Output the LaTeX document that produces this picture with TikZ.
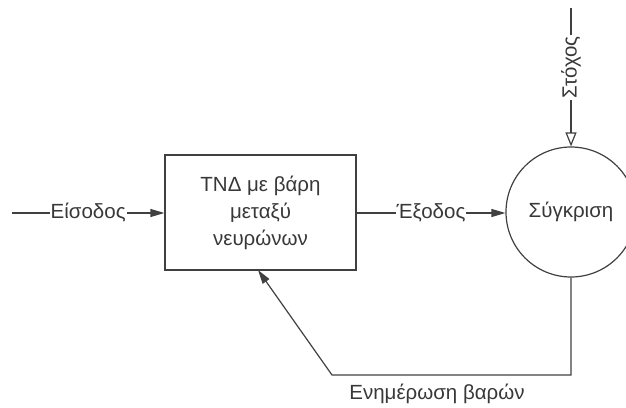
\documentclass[tikz,border=0pt]{standalone}
\usepackage{fontspec}
\setmainfont{Liberation Sans}
\usetikzlibrary{arrows.meta}
\begin{document}
\begin{tikzpicture}[x=1pt,y=-1pt,
  ln/.style={draw=black!75, line width=1.2pt},
  fa/.style={-{Triangle[length=14pt,width=8pt]}},
  oa/.style={-{Triangle[open,length=14pt,width=11pt]}},
  txt/.style={font=\fontsize{20.5}{27}\selectfont, text=black!78},
  lbl/.style={txt, fill=white, inner sep=1pt}]
\useasboundingbox (0,0) rectangle (626,407);
\node[ln, txt, minimum width=191pt, minimum height=115pt, align=center] (box) at (260.5,212.5) {ΤΝΔ με βάρη\\μεταξύ\\νευρώνων};
\node[ln, txt, circle, minimum size=130pt, inner sep=0pt] (cmp) at (571,212) {Σύγκριση};
\coordinate (in) at (12,213);
\coordinate (top) at (571,8);
\coordinate (b1) at (571,375);
\coordinate (b2) at (332,375);
\coordinate (tip) at (258,270);
\draw[ln,fa] (in) -- node[lbl] {Είσοδος} (box.west |- in);
\draw[ln,fa] (box.east |- in) -- node[lbl] {Έξοδος} (cmp.west |- in);
\draw[ln,oa] (top) -- node[lbl, rotate=90, pos=0.43] {Στόχος} (cmp.north);
\draw[ln,fa] (cmp.south) -- (b1) -- (b2) -- (tip);
\node[txt] (upd) at (437,394) {Ενημέρωση βαρών};
\end{tikzpicture}
\end{document}
